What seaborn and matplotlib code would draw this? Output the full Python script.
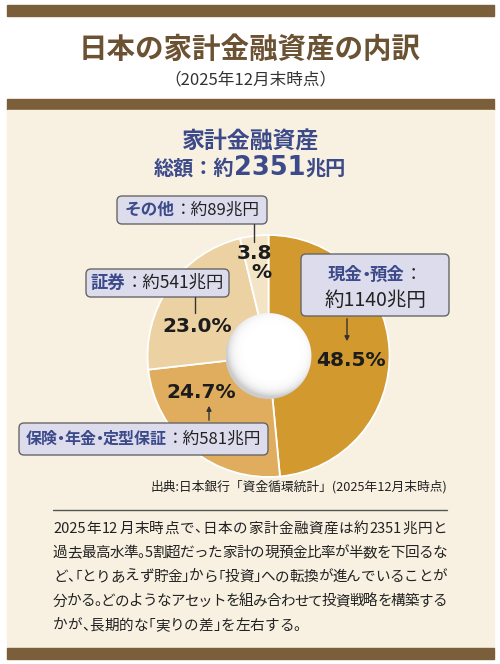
import matplotlib
matplotlib.use("Agg")
import matplotlib.pyplot as plt
from matplotlib.patches import Rectangle, FancyBboxPatch, Circle
import numpy as np
import seaborn as sns

# data
categories = ["現金・預金", "保険・年金・定型保証", "証券", "その他"]
values = [1140, 581, 541, 89]          # 兆円
pct_labels = ["48.5%", "24.7%", "23.0%", "3.8\n%"]
total = 2351
colors = ["#d1992e", "#dfad5d", "#ecd1a2", "#f3e4c6"]

title = "日本の家計金融資産の内訳"
subtitle = "（2025年12月末時点）"
source = "出典:日本銀行「資金循環統計」(2025年12月末時点)"
body_lines = [
    "2025年12月末時点で、日本の家計金融資産は約2351兆円と",
    "過去最高水準。5割超だった家計の現預金比率が半数を下回るな",
    "ど、「とりあえず貯金」から「投資」への転換が進んでいることが",
    "分かる。どのようなアセットを組み合わせて投資戦略を構築する",
    "かが、長期的な「実りの差」を左右する。",
]

sns.set_theme(style="white")
JP = ["Noto Sans CJK JP", "DejaVu Sans"]
NUM = ["DejaVu Sans", "Noto Sans CJK JP"]
plt.rcParams["font.family"] = JP

BROWN = "#7b5f3a"
NAVY = "#3c4a8a"
INK = "#222222"
CREAM = "#f8f1e2"

W, H = 500, 664
fig = plt.figure(figsize=(W / 100, H / 100), dpi=100)
fig.patch.set_facecolor("white")

bg = fig.add_axes([0, 0, 1, 1], zorder=0)
bg.set_xlim(0, W)
bg.set_ylim(H, 0)
bg.axis("off")

# frame bars and panel
bg.add_patch(Rectangle((7, 5), 487, 11, color=BROWN))
bg.add_patch(Rectangle((7, 99), 487, 11, color=BROWN))
bg.add_patch(Rectangle((7, 110), 487, 538, color=CREAM))
bg.add_patch(Rectangle((7, 648), 487, 11, color=BROWN))

bg.text(250, 50, title, ha="center", va="center", fontsize=20.5,
        fontweight="bold", color="#6b5233")
bg.text(250, 80, subtitle, ha="center", va="center", fontsize=12, color="#333333")

# donut
cx, cy, r = 268.5, 356, 121
pie_ax = fig.add_axes([(cx - r) / W, (H - cy - r) / H, 2 * r / W, 2 * r / H], zorder=1)
wedges, _ = pie_ax.pie(values, colors=colors, startangle=90, counterclock=False,
                       wedgeprops=dict(edgecolor="white", linewidth=1.3))
pie_ax.set_aspect("auto")
pie_ax.axis("off")

# shaded hole (soft sphere look)
hr = 0.355
gx, gy = np.meshgrid(np.linspace(-hr, hr, 240), np.linspace(-hr, hr, 240))
d = np.hypot(gx - 0.025, gy - 0.04) / (hr * 1.06)
shade = 1 - 0.2 * np.clip(d, 0, 1) ** 9
img = pie_ax.imshow(shade, cmap="gray", vmin=0, vmax=1, origin="lower",
                    extent=[-hr, hr, -hr, hr], zorder=3, interpolation="bilinear")
hole = Circle((0, 0), hr, transform=pie_ax.transData, facecolor="none", edgecolor="none")
pie_ax.add_patch(hole)
img.set_clip_path(hole)
pie_ax.set_xlim(-1, 1)
pie_ax.set_ylim(-1, 1)

# overlay for labels and callouts
ov = fig.add_axes([0, 0, 1, 1], zorder=2)
ov.set_xlim(0, W)
ov.set_ylim(H, 0)
ov.axis("off")
ov.patch.set_alpha(0)

renderer = fig.canvas.get_renderer()


def width_of(s, kw):
    t = ov.text(0, 0, s, **kw)
    w = t.get_window_extent(renderer).width
    t.remove()
    return w


def rich(x, y, parts):
    # parts: (text, style, advance or None)
    advs = []
    for s, kw, adv in parts:
        advs.append(adv if adv is not None else width_of(s, kw))
    start = x - sum(advs) / 2
    for (s, kw, _), a in zip(parts, advs):
        ov.text(start + a / 2, y, s, ha="center", va="center", **kw)
        start += a


def cat_parts(name, kw):
    em = kw["fontsize"] * 100 / 72
    out = []
    for i, piece in enumerate(name.split("・")):
        if i:
            out.append(("・", kw, 0.42 * em))
        out.append((piece, kw, None))
    return out


def box(x0, y0, x1, y1):
    ov.add_patch(FancyBboxPatch((x0, y0), x1 - x0, y1 - y0,
                                boxstyle="round,pad=0,rounding_size=5",
                                facecolor="#dcdced", edgecolor="#666666", linewidth=1))


def justify(x0, width, y, line, fs, fill=True):
    em = fs * 100 / 72
    tokens = []
    i = 0
    while i < len(line):
        if ord(line[i]) < 128:
            j = i
            while j < len(line) and ord(line[j]) < 128:
                j += 1
            tokens.append(line[i:j])
            i = j
        else:
            tokens.append(line[i])
            i += 1
    advs = []
    for tk in tokens:
        if ord(tk[0]) < 128:
            advs.append(width_of(tk, dict(fontsize=fs)) + 0.04 * em)
        elif tk in "、。」）「（":
            advs.append(0.5 * em)
        else:
            advs.append(em)
    extra = (width - sum(advs)) / (len(tokens) - 1) if fill else 0
    xpos = x0
    base = y + 0.38 * em
    for tk, a in zip(tokens, advs):
        if tk in "、。」）":
            ov.text(xpos, base, tk, ha="left", va="baseline", fontsize=fs, color=INK)
        elif tk in "「（":
            ov.text(xpos + a, base, tk, ha="right", va="baseline", fontsize=fs, color=INK)
        else:
            ov.text(xpos + a / 2, base, tk, ha="center", va="baseline", fontsize=fs, color=INK)
        xpos += a + extra


ov.text(251, 142, "家計金融資産", ha="center", va="center", fontsize=16.5,
        fontweight="bold", color=NAVY)
rich(250, 168, [("総額：約", dict(fontsize=14.5, fontweight="bold", color=NAVY), None),
                (str(total), dict(fontsize=18.5, fontweight="bold", color=NAVY, family=NUM), None),
                ("兆円", dict(fontsize=14.5, fontweight="bold", color=NAVY), None)])

# percentage labels
pct_pos = [(351, 360), (201, 393), (197, 327), (254, 263)]
for (px, py), lab in zip(pct_pos, pct_labels):
    ov.text(px, py, lab, ha="center", va="center", fontsize=14.5, fontweight="bold",
            color="#1c1c1c", family=NUM, linespacing=1.05, multialignment="right")

bold = dict(fontweight="bold", color=NAVY)
reg = dict(color=INK)

# その他
box(117, 196, 267, 224)
rich(192, 210, cat_parts(categories[3], dict(fontsize=12, **bold))
     + [(f"：約{values[3]}兆円", dict(fontsize=12, **reg), None)])
ov.plot([254, 254], [224, 242], color="#333333", lw=1)

# 証券
box(86, 269, 229, 297)
rich(157.5, 283, cat_parts(categories[2], dict(fontsize=12.5, **bold))
     + [(f"：約{values[2]}兆円", dict(fontsize=12.5, **reg), None)])
ov.plot([195, 195], [297, 313], color="#333333", lw=1)

# 現金・預金
box(301, 254, 449, 316)
rich(375, 275, cat_parts(categories[0], dict(fontsize=12.5, **bold))
     + [("：", dict(fontsize=12.5, **reg), None)])
rich(375, 300, [(f"約{values[0]}兆円", dict(fontsize=14, **reg), None)])
ov.annotate("", xy=(347, 344), xytext=(347, 316),
            arrowprops=dict(arrowstyle="-|>", color="#333333", lw=1, mutation_scale=7))

# 保険・年金・定型保証
box(19, 423, 268, 455)
rich(143.5, 439, cat_parts(categories[1], dict(fontsize=11.5, **bold))
     + [(f"：約{values[1]}兆円", dict(fontsize=12, **reg), None)])
ov.annotate("", xy=(209, 403), xytext=(209, 423),
            arrowprops=dict(arrowstyle="-|>", color="#333333", lw=1, mutation_scale=7))

# source and body text
ov.text(447, 487, source, ha="right", va="center", fontsize=9.2, color=INK)
ov.plot([53, 447], [510, 510], color="#555555", lw=1)
for i, line in enumerate(body_lines):
    justify(53, 394, 527 + 24.3 * i, line, 10.5, fill=i < len(body_lines) - 1)

fig.savefig("out.png", dpi=100, facecolor="white")
